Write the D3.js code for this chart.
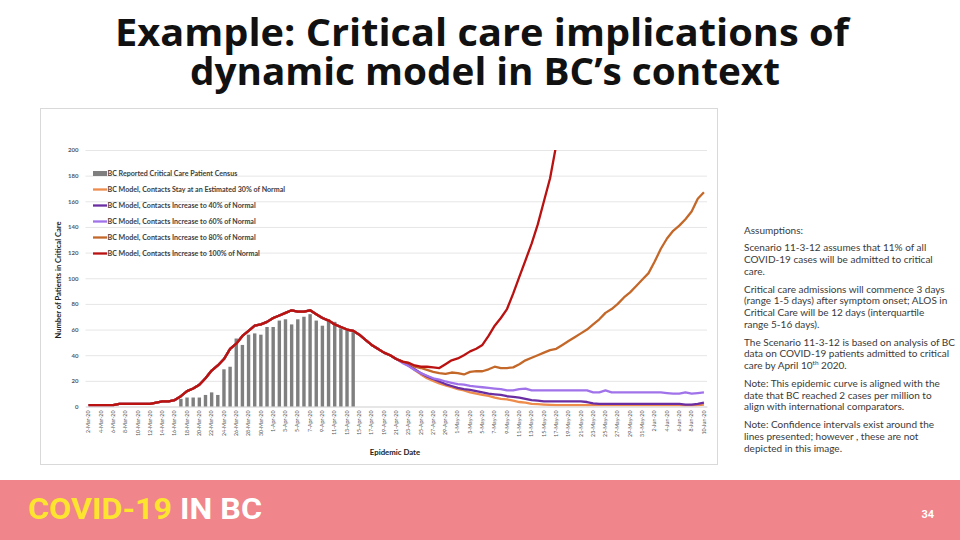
<!DOCTYPE html>
<html>
<head>
<meta charset="utf-8">
<script src="https://cdn.jsdelivr.net/npm/d3@7"></script>
<style>
  body { margin: 0; background: #fff; }
  svg { display: block; font-family: Lato, "Noto Sans", sans-serif; }
</style>
</head>
<body>
<div id="slide"></div>
<script>
// daily categories on the x axis
const firstDay = '2020-03-02';
const lastDay = '2020-06-10';
const yTicks = [0, 20, 40, 60, 80, 100, 120, 140, 160, 180, 200];

// reported census bars, 17-Mar to 14-Apr
const censusFirstDay = '2020-03-17';
const censusValues = [6, 7, 7, 7, 9, 11, 9, 29, 31, 53, 48, 56, 57, 56, 62, 62, 67, 68, 64, 68, 70, 72, 67, 63, 68, 66, 61, 60, 58];

// model curve shared by every scenario up to 21-Apr (days 0..50)
const sharedCurve = [1, 1, 1, 1, 1, 2, 2, 2, 2, 2, 2, 3, 4, 4, 5, 8, 12, 14, 17, 22, 28, 32, 37, 45, 49, 55, 59, 63, 64, 66, 69, 71, 73, 75, 74, 74, 75, 72, 69, 67, 64, 62, 60, 59, 56, 52, 48, 45, 42, 40, 37];

// scenario values from 22-Apr onward
const tail30 = [35, 32, 28.5, 25, 22, 20, 18, 16.5, 15, 13.5, 12.5, 11, 10, 9, 8.3, 7, 6, 5.5, 4.5, 3.5, 3, 2, 1.8, 1.5, 1.3,
  1, 1, 1, 1, 1, 1, 1, 1, 1, 1, 1, 1, 1, 1, 1, 1, 1, 1, 1, 1, 1, 0.8, 0.8, 1, 1.5];
const tail40 = [35, 32, 29, 26, 23.5, 21.5, 19.5, 17.5, 16, 14.5, 13.5, 13, 12, 11, 10, 9.5, 9, 8, 7.5, 7, 6, 5, 4.5, 4, 4, 4, 4, 4, 4, 4, 3.5, 2.5,
  2, 2, 2, 2, 2, 2, 2, 2, 2, 2, 2, 2, 2, 2, 1.5, 1.5, 2, 3];
const tail60 = [34, 31.5, 28.5, 26, 24, 22, 21, 19.5, 18.5, 17.5, 17, 16, 15.5, 15, 14.5, 14, 13.5, 12.5, 12.5, 13.5, 14, 12.5,
  12.5, 12.5, 12.5, 12.5, 12.5, 12.5, 12.5, 12.5, 12.5, 11, 11, 12.5, 11, 11, 11, 11, 11, 11, 11, 11, 11, 10.5, 10, 10, 11, 10, 10.5, 11];
const tail80 = [35, 34, 31, 30, 28.5, 27, 26, 25.5, 26.5, 26, 25, 27, 27.5, 27.5, 29, 31, 30, 30, 30.5, 33, 36, 38, 40, 42, 44, 45,
  48, 51, 54, 57, 60, 64, 68, 73, 76, 80, 85, 89, 94, 99, 104, 113, 123, 131, 137, 141, 146, 152, 162, 167];
const tail100 = [35, 34, 32, 31, 31, 30.5, 30, 33, 36, 37.5, 40, 43, 45, 48, 55, 63, 69, 76, 88, 101, 114, 127, 142, 160, 178, 204, 232];

const seriesNames = [
  'BC Model, Contacts Stay at an Estimated 30% of Normal',
  'BC Model, Contacts Increase to 40% of Normal',
  'BC Model, Contacts Increase to 60% of Normal',
  'BC Model, Contacts Increase to 80% of Normal',
  'BC Model, Contacts Increase to 100% of Normal'
];
const seriesTails = [tail30, tail40, tail60, tail80, tail100];
const seriesColors = ['#EE8C4C', '#6A2EA2', '#A073EA', '#C4682A', '#BA1111'];
const censusName = 'BC Reported Critical Care Patient Census';

const titleLines = ['Example: Critical care implications of', 'dynamic model in BC’s context'];

const noteParagraphs = [
  ['Assumptions:'],
  ['Scenario 11-3-12 assumes that 11% of all', 'COVID-19 cases will be admitted to critical', 'care.'],
  ['Critical care admissions will commence 3 days', '(range 1-5 days) after symptom onset; ALOS in', 'Critical Care will be 12 days (interquartile', 'range 5-16 days).'],
  ['The Scenario 11-3-12 is based on analysis of BC', 'data on COVID-19 patients admitted to critical', 'care by April 10|th| 2020.'],
  ['Note: This epidemic curve is aligned with the', 'date that BC reached 2 cases per million to', 'align with international comparators.'],
  ['Note: Confidence intervals exist around the', 'lines presented; however , these  are not', 'depicted in this image.']
];

const parseDay = d3.timeParse('%Y-%m-%d');
const fmtDay = d3.timeFormat('%-d-%b-%y');
const days = d3.timeDay.range(parseDay(firstDay), d3.timeDay.offset(parseDay(lastDay), 1));
const dayLabels = days.map(fmtDay);
const censusStartIndex = d3.timeDay.count(parseDay(firstDay), parseDay(censusFirstDay));

const width = 960, height = 540;
const svg = d3.select('#slide').append('svg')
  .attr('width', width)
  .attr('height', height)
  .attr('viewBox', `0 0 ${width} ${height}`);

// title, two lines in one text block
const title = svg.append('text')
  .attr('font-family', '"Open Sans", sans-serif').attr('font-weight', 700)
  .attr('font-size', 38).attr('fill', '#111').attr('text-anchor', 'middle');
title.append('tspan').attr('x', 482).attr('y', 46)
  .attr('textLength', 734).attr('lengthAdjust', 'spacingAndGlyphs').text(titleLines[0]);
title.append('tspan').attr('x', 485).attr('y', 85)
  .attr('textLength', 590).attr('lengthAdjust', 'spacingAndGlyphs').text(titleLines[1]);

// chart frame
svg.append('rect')
  .attr('x', 40.5).attr('y', 108.5).attr('width', 677).attr('height', 356)
  .attr('fill', '#fff').attr('stroke', '#D9D9D9').attr('stroke-width', 1);

const x = d3.scaleBand().domain(dayLabels).range([85.5, 707]).paddingInner(0).paddingOuter(0);
const y = d3.scaleLinear().domain([0, 200]).range([406.5, 150]);
const xc = i => x(dayLabels[i]) + x.bandwidth() / 2;

// grid + y axis
const yAxis = svg.append('g')
  .attr('transform', `translate(${x.range()[0]},0)`)
  .call(d3.axisLeft(y).tickValues(yTicks).tickSize(-(x.range()[1] - x.range()[0])).tickPadding(7));
yAxis.select('.domain').remove();
yAxis.selectAll('.tick line').attr('stroke', '#E6E6E6').attr('stroke-width', 1);
yAxis.selectAll('.tick text').attr('font-family', 'Lato, sans-serif').attr('font-weight', 700)
  .attr('font-size', 6).attr('fill', '#595959');

// x axis
const xAxis = svg.append('g')
  .attr('transform', `translate(0,${y(0)})`)
  .call(d3.axisBottom(x).tickValues(dayLabels.filter((d, i) => i % 2 === 0)).tickSize(0));
xAxis.select('.domain').attr('stroke', '#D9D9D9');
xAxis.selectAll('.tick text')
  .attr('font-family', 'Lato, sans-serif').attr('font-size', 5.3).attr('fill', '#595959')
  .attr('text-anchor', 'end').attr('transform', 'rotate(-90)')
  .attr('x', -4).attr('y', 0).attr('dy', '0.32em');

// axis titles
svg.append('text').attr('x', 395).attr('y', 454.5).attr('text-anchor', 'middle')
  .attr('font-weight', 700).attr('font-size', 7.8).attr('fill', '#222').text('Epidemic Date');
svg.append('text').attr('transform', 'translate(61,280) rotate(-90)').attr('text-anchor', 'middle')
  .attr('font-weight', 700).attr('font-size', 7.6).attr('fill', '#222').text('Number of Patients in Critical Care');

// census bars
svg.append('g').selectAll('rect').data(censusValues).join('rect')
  .attr('x', (d, i) => xc(censusStartIndex + i) - 1.7)
  .attr('width', 3.4)
  .attr('y', d => y(d))
  .attr('height', d => y(0) - y(d))
  .attr('fill', '#7F7F7F');

// model lines
svg.append('clipPath').attr('id', 'plotClip').append('rect')
  .attr('x', x.range()[0]).attr('y', y(200)).attr('width', x.range()[1] - x.range()[0]).attr('height', y(0) - y(200));

const line = d3.line().x((d, i) => xc(i)).y(d => y(d));
const lines = svg.append('g').attr('clip-path', 'url(#plotClip)');
seriesTails.forEach((tail, k) => {
  const values = sharedCurve.concat(tail);
  lines.append('path')
    .attr('d', line(values))
    .attr('fill', 'none')
    .attr('stroke', seriesColors[k])
    .attr('stroke-width', 2.3)
    .attr('stroke-linejoin', 'round');
});

// legend
const legend = svg.append('g').attr('font-weight', 700).attr('font-size', 7.1).attr('fill', '#404040');
const legendRows = [censusName].concat(seriesNames);
legendRows.forEach((name, i) => {
  const ly = 173.5 + i * 16;
  if (i === 0) {
    legend.append('rect').attr('x', 93).attr('y', ly - 2.5).attr('width', 14).attr('height', 5).attr('fill', '#7F7F7F');
  } else {
    legend.append('line').attr('x1', 93).attr('x2', 107).attr('y1', ly).attr('y2', ly)
      .attr('stroke', seriesColors[i - 1]).attr('stroke-width', 2.3);
  }
  legend.append('text').attr('x', 107.5).attr('y', ly).attr('dy', '0.35em').text(name);
});

// notes on the right
const notes = svg.append('g').attr('font-size', 10).attr('fill', '#3A3A3A');
let ny = 233.5;
noteParagraphs.forEach((para) => {
  para.forEach(row => {
    const t = notes.append('text').attr('x', 744).attr('y', ny);
    const parts = row.split('|');
    parts.forEach((part, j) => {
      if (j === 1) {
        t.append('tspan').attr('font-size', 6.5).attr('dy', -3.8).text(part);
      } else if (j === 2) {
        t.append('tspan').attr('dy', 3.8).text(part);
      } else {
        t.append('tspan').text(part);
      }
    });
    ny += 11.7;
  });
  ny += 6.2;
});

// footer band
svg.append('rect').attr('x', 0).attr('y', 480).attr('width', width).attr('height', 60).attr('fill', '#F0858B');
const brand = svg.append('text').attr('x', 28).attr('y', 519)
  .attr('font-family', 'Roboto, sans-serif').attr('font-weight', 700).attr('font-size', 30)
  .attr('textLength', 234).attr('lengthAdjust', 'spacingAndGlyphs');
brand.append('tspan').attr('fill', '#FDE42E').text('COVID-19');
brand.append('tspan').attr('fill', '#fff').text(' IN BC');
svg.append('text').attr('x', 934).attr('y', 518).attr('text-anchor', 'end')
  .attr('font-family', 'Roboto, sans-serif').attr('font-weight', 700).attr('font-size', 11).attr('fill', '#fff')
  .text('34');
</script>
</body>
</html>
